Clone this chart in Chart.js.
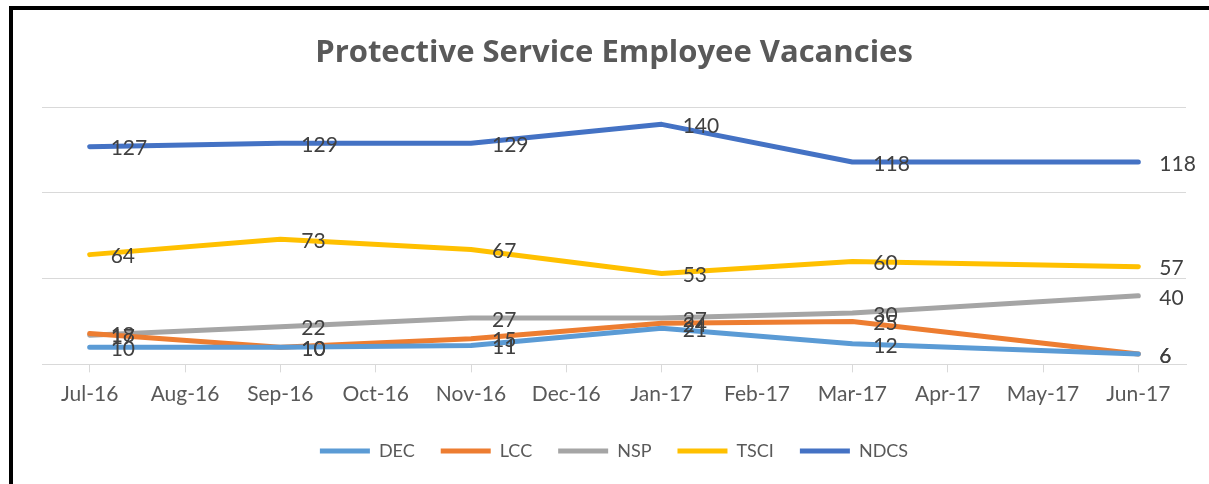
<!DOCTYPE html>
<html>
<head>
<meta charset="utf-8">
<script src="https://cdn.jsdelivr.net/npm/chart.js@4/dist/chart.umd.min.js"></script>
<style>
  html, body { margin: 0; padding: 0; background: #fff; }
  #wrap { position: relative; width: 1209px; height: 484px; }
  #frame {
    position: absolute; left: 9px; top: 6px; width: 1300px; height: 600px;
    border-left: 4px solid #000; border-top: 4px solid #000; pointer-events: none;
  }
</style>
</head>
<body>
<div id="wrap">
  <canvas id="chart"></canvas>
  <div id="frame"></div>
</div>
<script>
const months = ['Jul-16', 'Aug-16', 'Sep-16', 'Oct-16', 'Nov-16', 'Dec-16',
                'Jan-17', 'Feb-17', 'Mar-17', 'Apr-17', 'May-17', 'Jun-17']

// only some months were reported, the rest are gaps
const dec  = [10, null, 10, null, 11, null, 21, null, 12, null, null, 6]
const lcc  = [18, null, 10, null, 15, null, 24, null, 25, null, null, 6]
const nsp  = [17, null, 22, null, 27, null, 27, null, 30, null, null, 40]
const tsci = [64, null, 73, null, 67, null, 53, null, 60, null, null, 57]
const ndcs = [127, null, 129, null, 129, null, 140, null, 118, null, null, 118]

const FONT = 'Lato, "Open Sans", sans-serif'

const makeSet = (label, data, color) => ({
    label: label,
    data: data,
    borderColor: color,
    backgroundColor: color,
    borderWidth: 5,
    borderCapStyle: 'round',
    borderJoinStyle: 'round',
    pointRadius: 0,
    pointHoverRadius: 0,
    spanGaps: true,
    tension: 0
})

// values written to the right of each point, like the Excel labels
const pointLabels = {
    id: 'pointLabels',
    afterDatasetsDraw(chart) {
        const ctx = chart.ctx
        ctx.save()
        ctx.font = '21px ' + FONT
        ctx.fillStyle = '#404040'
        ctx.textAlign = 'left'
        ctx.textBaseline = 'middle'
        chart.data.datasets.forEach((ds, i) => {
            const meta = chart.getDatasetMeta(i)
            meta.data.forEach((pt, j) => {
                if (ds.data[j] === null) return
                ctx.fillText(String(ds.data[j]), pt.x + 21, pt.y + 2)
            })
        })
        ctx.restore()
    }
}

new Chart(document.getElementById('chart'), {
    type: 'line',
    data: {
        labels: months,
        datasets: [
            makeSet('DEC', dec, '#5B9BD5'),
            makeSet('LCC', lcc, '#ED7D31'),
            makeSet('NSP', nsp, '#A5A5A5'),
            makeSet('TSCI', tsci, '#FFC000'),
            makeSet('NDCS', ndcs, '#4472C4')
        ]
    },
    options: {
        responsive: true,
        maintainAspectRatio: false,
        animation: false,
        layout: { padding: { left: 42, right: 23, top: 0, bottom: 14 } },
        plugins: {
            title: {
                display: true,
                text: 'Protective Service Employee Vacancies',
                color: '#595959',
                font: { family: '"Open Sans", sans-serif', size: 31, weight: 'bold' },
                padding: { top: 35, bottom: 35 }
            },
            legend: {
                position: 'bottom',
                labels: {
                    usePointStyle: true,
                    pointStyle: 'line',
                    pointStyleWidth: 50,
                    color: '#595959',
                    font: { family: FONT, size: 18 },
                    padding: 26
                }
            },
            tooltip: { enabled: false }
        },
        scales: {
            x: {
                offset: true,
                grid: { drawOnChartArea: false, drawTicks: true, tickLength: 8, color: '#d9d9d9' },
                border: { color: '#d9d9d9', width: 1 },
                ticks: {
                    color: '#595959',
                    font: { family: FONT, size: 21, lineHeight: 0.65 },
                    padding: 15,
                    maxRotation: 0,
                    autoSkip: false
                }
            },
            y: {
                min: 0,
                max: 150,
                ticks: { display: false, stepSize: 50 },
                grid: { color: '#d9d9d9', drawTicks: false },
                border: { display: false }
            }
        }
    },
    plugins: [pointLabels]
})
</script>
</body>
</html>
